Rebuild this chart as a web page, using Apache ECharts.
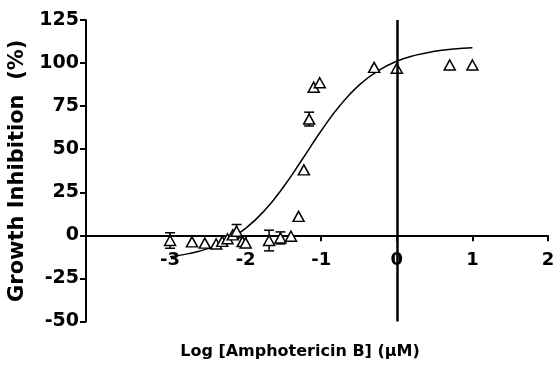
<!DOCTYPE html>
<html>
<head>
<meta charset="utf-8">
<script src="https://cdn.jsdelivr.net/npm/echarts@6/dist/echarts.min.js"></script>
<style>html,body{margin:0;padding:0;background:#fff}#c{width:554px;height:372px}</style>
</head>
<body>
<div id="c"></div>
<script>
// Measured data (Log [Amphotericin B] vs Growth Inhibition %)
var pointX = [-3.0, -2.71, -2.54, -2.39, -2.31, -2.24, -2.17, -2.12, -2.04, -2.0, -1.69, -1.54, -1.40, -1.30, -1.23, -1.16, -1.10, -1.02, -0.30, 0.0, 0.70, 1.0];
var pointY = [-3.0, -3.8, -4.5, -5.0, -3.5, -2.0, 0.3, 2.4, -3.6, -4.4, -3.0, -1.5, -0.5, 11.0, 38.0, 67.5, 86.0, 88.6, 97.5, 97.0, 98.9, 98.9];
var pointErr = [4.5, 0, 0, 0, 0, 0, 0, 3.9, 0, 0, 6.0, 3.5, 0, 0, 0, 4.0, 0, 0, 0, 0, 0, 0];
// Fitted curve
var curveX = [-3.0, -2.75, -2.5, -2.25, -2.0, -1.75, -1.5, -1.25, -1.0, -0.75, -0.5, -0.25, 0.0, 0.25, 0.5, 0.75, 1.0];
var curveY = [-12.4, -10.6, -7.7, -3.1, 4.1, 14.4, 28.1, 44.2, 60.7, 75.5, 87.2, 95.5, 101.1, 104.6, 106.8, 108.1, 108.9];
var xTicks = [-3, -2, -1, 0, 1, 2];

var FONT = 'DejaVu Sans';
var points = pointX.map(function (x, i) { return [x, pointY[i]]; });
var curve = curveX.map(function (x, i) { return [x, curveY[i]]; });
var errs = [];
pointX.forEach(function (x, i) { if (pointErr[i] > 0) errs.push([x, pointY[i], pointErr[i]]); });

var chart = echarts.init(document.getElementById('c'));
chart.setOption({
  animation: false,
  backgroundColor: '#fff',
  grid: { left: 86, right: 6, top: 20, bottom: 50.5, containLabel: false, outerBoundsMode: 'none' },
  xAxis: {
    type: 'value', min: -4.112, max: 2,
    name: 'Log [Amphotericin B] (\u03bcM)', nameLocation: 'middle', nameGap: 22,
    nameTextStyle: { fontFamily: FONT, fontWeight: 'bold', fontSize: 16, color: '#000', padding: [0, 34, 0, 0] },
    axisLine: { onZero: true, lineStyle: { color: '#000', width: 2 } },
    axisTick: { show: true, length: 6, lineStyle: { color: '#000', width: 2 }, customValues: xTicks },
    axisLabel: { customValues: xTicks, margin: -70, fontFamily: FONT, fontWeight: 'bold', fontSize: 18, color: '#000' },
    splitLine: { show: false }
  },
  yAxis: {
    type: 'value', min: -50, max: 125, interval: 25,
    name: 'Growth Inhibition  (%)', nameLocation: 'middle', nameGap: 6,
    nameTextStyle: { fontFamily: FONT, fontWeight: 'bold', fontSize: 21, color: '#000' },
    axisLine: { show: true, onZero: false, lineStyle: { color: '#000', width: 2 } },
    axisTick: { show: true, length: 6, lineStyle: { color: '#000', width: 2 } },
    axisLabel: { margin: 7, fontFamily: FONT, fontWeight: 'bold', fontSize: 19, color: '#000' },
    splitLine: { show: false }
  },
  series: [
    {
      type: 'line', data: curve, smooth: true, showSymbol: false, silent: true,
      lineStyle: { color: '#000', width: 1.5 }, z: 2,
      markLine: {
        silent: true, symbol: 'none', label: { show: false },
        lineStyle: { color: '#000', width: 2.5, type: 'solid' },
        data: [{ xAxis: 0 }]
      }
    },
    {
      type: 'custom', data: errs, z: 3,
      renderItem: function (params, api) {
        var x = api.value(0), y = api.value(1), e = api.value(2);
        var top = api.coord([x, y + e]);
        var bot = api.coord([x, y - e]);
        var w = 5;
        var st = { stroke: '#000', lineWidth: 1.5 };
        return {
          type: 'group', children: [
            { type: 'line', shape: { x1: top[0], y1: top[1], x2: bot[0], y2: bot[1] }, style: st },
            { type: 'line', shape: { x1: top[0] - w, y1: top[1], x2: top[0] + w, y2: top[1] }, style: st },
            { type: 'line', shape: { x1: bot[0] - w, y1: bot[1], x2: bot[0] + w, y2: bot[1] }, style: st }
          ]
        };
      }
    },
    {
      type: 'scatter', data: points, symbol: 'triangle', symbolSize: [11, 10], z: 4,
      itemStyle: { color: '#fff', borderColor: '#000', borderWidth: 1.5, opacity: 1 }
    }
  ]
});
</script>
</body>
</html>
